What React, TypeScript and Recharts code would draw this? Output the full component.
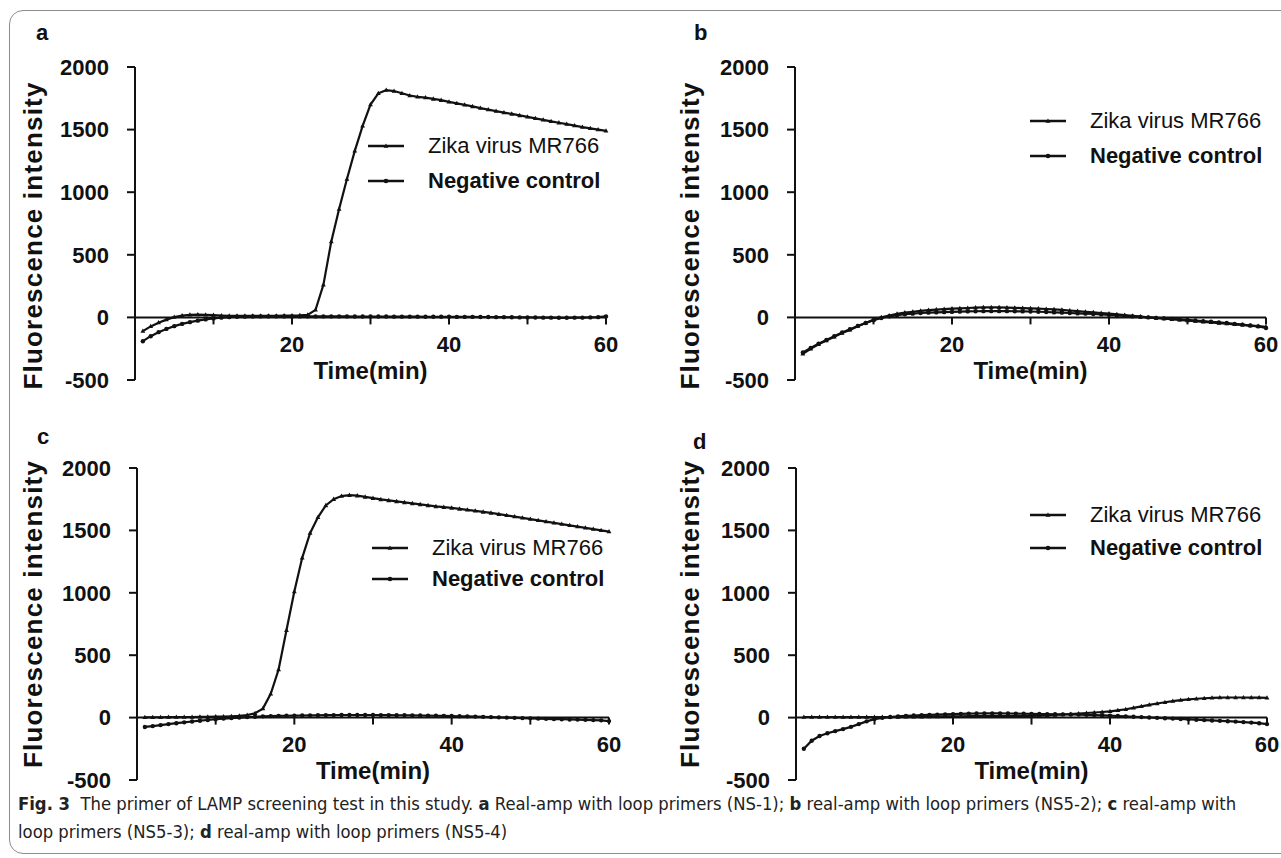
import React from 'react';
import { LineChart, Line, XAxis, YAxis, ReferenceLine, Legend, Label } from 'recharts';

// sampling times (min)
const TIME = [
  1, 2, 3, 4, 5, 6, 7, 8, 9, 10, 11, 12, 13, 14, 15, 16, 17, 18, 19, 20,
  21, 22, 23, 24, 25, 26, 27, 28, 29, 30, 31, 32, 33, 34, 35, 36, 37, 38, 39, 40,
  41, 42, 43, 44, 45, 46, 47, 48, 49, 50, 51, 52, 53, 54, 55, 56, 57, 58, 59, 60,
];

// panel a (NS-1)
const A_ZIKA = [
  -110, -72, -42, -18, 2, 14, 20, 22, 20, 18, 15, 13, 12, 12, 12, 12, 13, 13, 14, 15,
  16, 20, 60, 260, 605, 865, 1105, 1330, 1530, 1700, 1790, 1815, 1808, 1790, 1772, 1762, 1755, 1745, 1735, 1722,
  1710, 1698, 1685, 1672, 1660, 1648, 1636, 1625, 1613, 1602, 1590, 1578, 1566, 1555, 1544, 1532, 1520, 1510, 1500, 1490,
];
const A_NEG = [
  -190, -150, -118, -92, -70, -52, -38, -26, -16, -8, -2, 2, 5, 6, 7, 8, 8, 8, 8, 8,
  8, 8, 8, 8, 8, 8, 8, 7, 7, 7, 7, 7, 6, 6, 6, 6, 5, 5, 5, 5,
  4, 4, 4, 3, 3, 2, 2, 1, 0, 0, -1, -2, -2, -3, -3, -2, -2, 0, 2, 8,
];

// panel b (NS5-2)
const B_ZIKA = [
  -290, -250, -215, -185, -155, -125, -100, -70, -45, -20, 0, 15, 28, 38, 45, 52, 58, 62, 66, 70,
  72, 75, 78, 80, 80, 80, 78, 76, 74, 72, 70, 67, 64, 60, 55, 50, 45, 40, 35, 30,
  25, 18, 12, 6, 0, -5, -10, -15, -20, -25, -30, -35, -40, -45, -50, -55, -60, -65, -70, -75,
];
const B_NEG = [
  -280, -245, -210, -180, -150, -120, -95, -68, -45, -22, -5, 8, 18, 25, 30, 35, 38, 40, 42, 44,
  46, 48, 49, 50, 50, 50, 50, 49, 48, 47, 45, 43, 40, 38, 35, 32, 30, 27, 24, 20,
  16, 12, 8, 4, 0, -4, -8, -12, -16, -20, -25, -30, -35, -40, -45, -52, -58, -65, -72, -85,
];

// panel c (NS5-3)
const C_ZIKA = [
  2, 3, 3, 4, 4, 5, 5, 6, 7, 8, 9, 11, 14, 20, 35, 72, 190, 385, 700, 1010,
  1280, 1478, 1605, 1700, 1750, 1775, 1782, 1778, 1768, 1758, 1748, 1740, 1732, 1724, 1716, 1708, 1700, 1692, 1686, 1680,
  1672, 1665, 1657, 1648, 1640, 1630, 1620, 1610, 1600, 1590, 1580, 1570, 1560, 1550, 1540, 1530, 1520, 1510, 1500, 1490,
];
const C_NEG = [
  -75, -68, -60, -52, -45, -38, -31, -25, -19, -13, -8, -4, 0, 4, 7, 10, 12, 14, 15, 16,
  17, 18, 19, 20, 20, 21, 21, 21, 21, 21, 20, 20, 19, 19, 18, 17, 16, 15, 14, 13,
  11, 10, 8, 6, 4, 2, 0, -2, -4, -6, -8, -10, -12, -13, -15, -16, -18, -20, -22, -28,
];

// panel d (NS5-4)
const D_ZIKA = [
  5, 5, 5, 5, 5, 4, 4, 4, 4, 4, 4, 5, 5, 6, 6, 7, 8, 9, 10, 10,
  11, 12, 12, 12, 12, 12, 12, 13, 13, 14, 16, 18, 21, 25, 29, 33, 37, 41, 45, 50,
  58, 67, 78, 90, 102, 113, 123, 132, 140, 146, 151, 155, 158, 160, 161, 161, 161, 160, 160, 158,
];
const D_NEG = [
  -250, -185, -148, -125, -108, -92, -74, -52, -30, -12, -2, 5, 10, 14, 17, 20, 22, 24, 26, 28,
  30, 32, 33, 34, 34, 34, 33, 32, 31, 30, 29, 28, 27, 26, 25, 24, 22, 20, 18, 16,
  13, 10, 7, 4, 1, -2, -5, -8, -11, -14, -17, -20, -23, -26, -29, -32, -36, -40, -45, -52,
];

const Y_MIN = -500;
const Y_MAX = 2000;
const Y_TICKS = [-500, 0, 500, 1000, 1500, 2000];
const X_TICKS = [10, 20, 30, 40, 50, 60];
const X_LABELED = [20, 40, 60];

const ZIKA_NAME = 'Zika virus MR766';
const NEG_NAME = 'Negative control';
const LEGEND_ORDER = ['zika', 'neg'];

const FONT = "'Liberation Sans', Arial, Helvetica, sans-serif";
const CAPTION_FONT = "'Liberation Sans Narrow', 'DejaVu Sans Condensed', 'Liberation Sans', sans-serif";
const INK = '#111';
const Y_W = 100;
const X_H = 40;

function TriangleDot(props: any) {
  const { cx, cy, index } = props;
  if (cx == null || cy == null) return <g key={index} />;
  return (
    <path
      key={index}
      d={`M${cx},${cy - 2.6}L${cx + 2.4},${cy + 1.7}L${cx - 2.4},${cy + 1.7}Z`}
      fill={INK}
    />
  );
}

function RoundDot(props: any) {
  const { cx, cy, index } = props;
  if (cx == null || cy == null) return <g key={index} />;
  return <circle key={index} cx={cx} cy={cy} r={2.2} fill={INK} />;
}

type Box = { left: number; top: number; width: number; height: number };
type Plot = { left: number; top: number; right: number; bottom: number };

interface PanelProps {
  box: Box;
  plot: Plot;
  zika: number[];
  neg: number[];
  yLabelX: number;
  yLabelDy: number;
  legendPos: { left: number; top: number; row: number };
}

function Panel({ box, plot, zika, neg, yLabelX, yLabelDy, legendPos }: PanelProps) {
  const data = TIME.map((t, i) => ({ t, zika: zika[i], neg: neg[i] }));
  const plotH = plot.bottom - plot.top;
  const zeroShift = (plotH * (0 - Y_MIN)) / (Y_MAX - Y_MIN);
  const margin = {
    top: plot.top - box.top,
    left: plot.left - box.left - Y_W,
    right: box.left + box.width - plot.right,
    bottom: box.top + box.height - plot.bottom - X_H,
  };
  const midY = (plot.top + plot.bottom) / 2 - box.top;

  // x axis sits on the zero line, so ticks are lifted from the bottom edge
  const renderXTick = (p: any) => {
    const { x, y, payload } = p;
    const y0 = y - zeroShift;
    return (
      <g>
        <line x1={x} x2={x} y1={y0} y2={y0 + 7} stroke={INK} strokeWidth={2} />
        {X_LABELED.includes(payload.value) && (
          <text
            x={x}
            y={y0 + 27}
            textAnchor="middle"
            dominantBaseline="central"
            fill={INK}
            fontSize={22}
            fontWeight="bold"
            fontFamily={FONT}
          >
            {payload.value}
          </text>
        )}
      </g>
    );
  };

  const renderLegend = (props: any) => {
    const payload = [...(props.payload || [])].sort(
      (a: any, b: any) => LEGEND_ORDER.indexOf(a.dataKey) - LEGEND_ORDER.indexOf(b.dataKey),
    );
    return (
      <div style={{ fontFamily: FONT, color: INK }}>
        {payload.map((entry: any) => {
          const isZika = entry.dataKey === 'zika';
          return (
            <div key={entry.value} style={{ display: 'flex', alignItems: 'center', height: legendPos.row }}>
              <svg width={36} height={12} style={{ display: 'block' }}>
                <line x1={0} x2={36} y1={6} y2={6} stroke={INK} strokeWidth={2.5} />
                {isZika ? (
                  <path d="M18,3.4L20.4,7.7L15.6,7.7Z" fill={INK} />
                ) : (
                  <circle cx={18} cy={6} r={2.3} fill={INK} />
                )}
              </svg>
              <span
                style={{
                  marginLeft: 24,
                  fontSize: 22,
                  fontWeight: isZika ? 'normal' : 'bold',
                  whiteSpace: 'nowrap',
                }}
              >
                {entry.value}
              </span>
            </div>
          );
        })}
      </div>
    );
  };

  return (
    <div style={{ position: 'absolute', left: box.left, top: box.top }}>
      <LineChart width={box.width} height={box.height} data={data} margin={margin}>
        <XAxis
          dataKey="t"
          type="number"
          domain={[0, 60]}
          ticks={X_TICKS}
          interval={0}
          height={X_H}
          axisLine={false}
          tickLine={false}
          tickSize={0}
          tickMargin={0}
          tick={renderXTick}
        >
          <Label
            content={(lp: any) => {
              const vb = lp.viewBox || {};
              return (
                <text
                  x={vb.x + vb.width / 2}
                  y={vb.y - 10}
                  textAnchor="middle"
                  dominantBaseline="central"
                  fill={INK}
                  fontSize={24}
                  fontWeight="bold"
                  fontFamily={FONT}
                >
                  Time(min)
                </text>
              );
            }}
          />
        </XAxis>
        <YAxis
          type="number"
          domain={[Y_MIN, Y_MAX]}
          ticks={Y_TICKS}
          interval={0}
          width={Y_W}
          tickSize={8}
          tickMargin={18}
          axisLine={{ stroke: INK, strokeWidth: 2 }}
          tickLine={{ stroke: INK, strokeWidth: 2 }}
          tick={{ fill: INK, fontSize: 22, fontWeight: 'bold', fontFamily: FONT }}
        >
          <Label
            content={() => {
              const cx = yLabelX - box.left;
              const cy = midY + yLabelDy;
              return (
                <text
                  x={cx}
                  y={cy}
                  transform={`rotate(-90 ${cx} ${cy})`}
                  textAnchor="middle"
                  dominantBaseline="central"
                  fill={INK}
                  fontSize={26}
                  fontWeight="bold"
                  fontFamily={FONT}
                  letterSpacing={1.2}
                >
                  Fluorescence intensity
                </text>
              );
            }}
          />
        </YAxis>
        <ReferenceLine y={0} stroke={INK} strokeWidth={2} />
        <Legend
          layout="vertical"
          align="center"
          verticalAlign="middle"
          wrapperStyle={{ left: legendPos.left, top: legendPos.top, width: 280, height: 'auto' }}
          content={renderLegend}
        />
        <Line
          type="linear"
          dataKey="zika"
          name={ZIKA_NAME}
          stroke={INK}
          strokeWidth={2.2}
          dot={TriangleDot}
          isAnimationActive={false}
        />
        <Line
          type="linear"
          dataKey="neg"
          name={NEG_NAME}
          stroke={INK}
          strokeWidth={2.2}
          dot={RoundDot}
          isAnimationActive={false}
        />
      </LineChart>
    </div>
  );
}

const letterStyle = (left: number, top: number): React.CSSProperties => ({
  position: 'absolute',
  left,
  top,
  fontFamily: FONT,
  fontWeight: 'bold',
  fontSize: 22,
  color: INK,
  lineHeight: 1,
});

const captionLine = (top: number): React.CSSProperties => ({
  position: 'absolute',
  left: 18,
  top,
  whiteSpace: 'nowrap',
  fontFamily: CAPTION_FONT,
  fontSize: 18.3,
  lineHeight: '20px',
  color: '#222',
});

export default function App() {
  return (
    <div
      style={{
        position: 'absolute',
        left: 0,
        top: 0,
        width: 1281,
        height: 858,
        overflow: 'hidden',
        background: '#fff',
      }}
    >
      <div
        style={{
          position: 'absolute',
          left: 9,
          top: 10,
          width: 1300,
          height: 842,
          border: '1.5px solid #8c8c8c',
          borderRadius: 14,
        }}
      />

      <Panel
        box={{ left: 0, top: 0, width: 640, height: 420 }}
        plot={{ left: 135, top: 67, right: 606, bottom: 380 }}
        zika={A_ZIKA}
        neg={A_NEG}
        yLabelX={33}
        yLabelDy={12}
        legendPos={{ left: 368, top: 128, row: 35 }}
      />
      <Panel
        box={{ left: 640, top: 0, width: 641, height: 420 }}
        plot={{ left: 795, top: 67, right: 1266, bottom: 380 }}
        zika={B_ZIKA}
        neg={B_NEG}
        yLabelX={690}
        yLabelDy={12}
        legendPos={{ left: 390, top: 103, row: 35 }}
      />
      <Panel
        box={{ left: 0, top: 420, width: 640, height: 400 }}
        plot={{ left: 137, top: 468, right: 609, bottom: 780 }}
        zika={C_ZIKA}
        neg={C_NEG}
        yLabelX={33}
        yLabelDy={-10}
        legendPos={{ left: 372, top: 112, row: 31 }}
      />
      <Panel
        box={{ left: 640, top: 420, width: 641, height: 400 }}
        plot={{ left: 796, top: 468, right: 1267, bottom: 780 }}
        zika={D_ZIKA}
        neg={D_NEG}
        yLabelX={690}
        yLabelDy={-10}
        legendPos={{ left: 390, top: 78, row: 33 }}
      />

      <div style={letterStyle(36, 22)}>a</div>
      <div style={letterStyle(694, 22)}>b</div>
      <div style={letterStyle(37, 426)}>c</div>
      <div style={letterStyle(693, 431)}>d</div>

      <div style={captionLine(794)}>
        <b>Fig. 3</b>&nbsp; The primer of LAMP screening test in this study. <b>a</b> Real-amp with loop primers
        (NS-1); <b>b</b> real-amp with loop primers (NS5-2); <b>c</b> real-amp with
      </div>
      <div style={captionLine(822)}>
        loop primers (NS5-3); <b>d</b> real-amp with loop primers (NS5-4)
      </div>
    </div>
  );
}
